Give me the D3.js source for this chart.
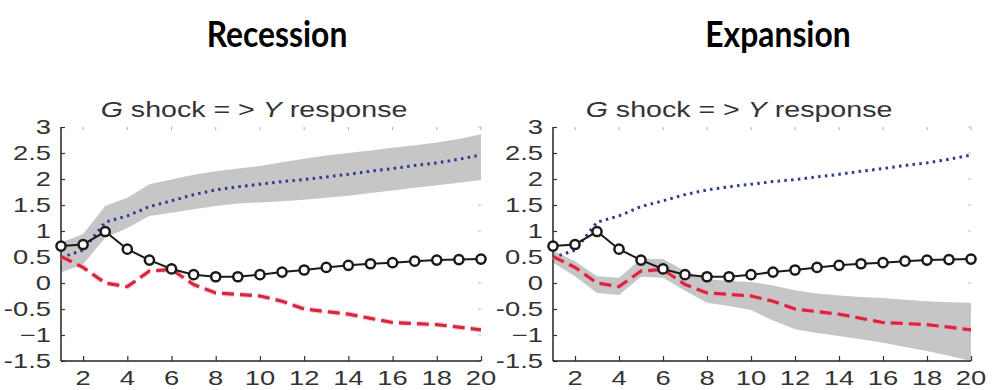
<!DOCTYPE html>
<html>
<head>
<meta charset="utf-8">
<script src="https://cdn.jsdelivr.net/npm/d3@7/dist/d3.min.js"></script>
<style>
  html, body { margin: 0; padding: 0; background: #fff; }
  svg { display: block; }
</style>
</head>
<body>
<svg id="chart" width="994" height="390"></svg>
<script>
// Impulse responses of output Y to a government spending shock G, horizons 1..20
const periods = [1,2,3,4,5,6,7,8,9,10,11,12,13,14,15,16,17,18,19,20];

// Black solid line with open circles
const linearResponse = [0.71,0.74,0.99,0.65,0.44,0.27,0.16,0.12,0.12,0.16,0.21,0.25,0.30,0.34,0.37,0.39,0.42,0.44,0.45,0.46];

// Blue dotted line and its band
const blueResponse = [0.49,0.63,1.17,1.29,1.47,1.58,1.70,1.79,1.85,1.90,1.95,1.99,2.04,2.09,2.15,2.20,2.26,2.31,2.38,2.46];
const blueBandLow  = [0.20,0.36,0.87,1.06,1.29,1.35,1.42,1.48,1.53,1.55,1.57,1.60,1.64,1.68,1.73,1.78,1.83,1.88,1.93,1.98];
const blueBandHigh = [0.78,0.94,1.48,1.64,1.90,1.99,2.08,2.15,2.20,2.25,2.32,2.39,2.45,2.50,2.55,2.60,2.65,2.70,2.77,2.86];

// Red dashed line and its band
const redResponse = [0.51,0.30,0.00,-0.07,0.23,0.26,-0.03,-0.19,-0.22,-0.25,-0.35,-0.50,-0.55,-0.60,-0.68,-0.76,-0.78,-0.80,-0.85,-0.90];
const redBandLow  = [0.39,0.13,-0.19,-0.23,0.12,0.10,-0.15,-0.38,-0.44,-0.52,-0.72,-0.89,-0.96,-1.02,-1.08,-1.15,-1.23,-1.31,-1.40,-1.50];
const redBandHigh = [0.62,0.42,0.13,0.10,0.46,0.46,0.23,0.07,0.04,0.02,-0.05,-0.14,-0.20,-0.24,-0.27,-0.29,-0.32,-0.35,-0.37,-0.38];

const yTicks = [-1.5,-1,-0.5,0,0.5,1,1.5,2,2.5,3];
const yTickLabels = ["-1.5","\u22121","-0.5","0","0.5","1","1.5","2","2.5","3"];
const xTicks = [2,4,6,8,10,12,14,16,18,20];

const panelTitles = ["Recession", "Expansion"];
const bandSeries = ["blue", "red"];

const svg = d3.select("#chart");
const stretch = 1.37;

const panels = [
  { left: 61, right: 481, titleX: 277, subX: 254 },
  { left: 553, right: 971, titleX: 778, subX: 739 }
];

panels.forEach((p, i) => {
  const x = d3.scaleLinear().domain([1, 20]).range([p.left, p.right]);
  const y = d3.scaleLinear().domain([-1.5, 3]).range([361, 127]);
  const g = svg.append("g");

  // Panel heading
  g.append("text")
    .attr("transform", `translate(${p.titleX},47) scale(0.86,1)`)
    .attr("text-anchor", "middle")
    .style("font-family", "Lato, 'Open Sans', sans-serif")
    .style("font-weight", 700)
    .style("font-size", "37px")
    .attr("fill", "#000")
    .text(panelTitles[i]);

  // Axes subtitle
  const sub = g.append("text")
    .attr("transform", `translate(${p.subX},117) scale(1.3,1)`)
    .attr("text-anchor", "middle")
    .style("font-family", "'Liberation Sans', Arial, sans-serif")
    .style("font-size", "22px")
    .attr("fill", "#333");
  sub.append("tspan").style("font-style", "italic").text("G");
  sub.append("tspan").text(" shock = > ");
  sub.append("tspan").style("font-style", "italic").text("Y");
  sub.append("tspan").text(" response");

  // Confidence band
  const area = d3.area()
    .x((d, k) => x(periods[k]))
    .y0(d => y(d[0]))
    .y1(d => y(d[1]));
  const lo = bandSeries[i] === "blue" ? blueBandLow : redBandLow;
  const hi = bandSeries[i] === "blue" ? blueBandHigh : redBandHigh;
  g.append("path")
    .datum(lo.map((v, k) => [v, hi[k]]))
    .attr("d", area)
    .attr("fill", "#c6c6c6");

  // Faint box ticks on top and right
  g.selectAll(".ttick").data(xTicks).enter().append("line")
    .attr("x1", d => x(d)).attr("x2", d => x(d))
    .attr("y1", y(3)).attr("y2", y(3) + 3)
    .attr("stroke", "#aaa").attr("stroke-width", 1);
  g.selectAll(".rtick").data(yTicks).enter().append("line")
    .attr("x1", x(20) - 3).attr("x2", x(20))
    .attr("y1", d => y(d)).attr("y2", d => y(d))
    .attr("stroke", "#bbb").attr("stroke-width", 1);

  // Left axis
  const yAxis = d3.axisRight(y).tickValues(yTicks).tickSize(4).tickFormat("");
  const ya = g.append("g").attr("transform", `translate(${p.left},0)`).call(yAxis);
  ya.select(".domain").attr("d", `M0,${y(3)}V${y(-1.5)}`).attr("stroke", "#222").attr("stroke-width", 1.5);
  ya.selectAll(".tick line").attr("stroke", "#333").attr("stroke-width", 1.2);
  g.selectAll(".ylab").data(yTicks).enter().append("text")
    .attr("transform", d => `translate(${p.left - 10},${y(d) + 7}) scale(${stretch},1)`)
    .attr("text-anchor", "end")
    .style("font-family", "'Liberation Sans', Arial, sans-serif")
    .style("font-size", "20px")
    .attr("fill", "#333")
    .text((d, k) => yTickLabels[k]);

  // Bottom axis
  const xAxis = d3.axisTop(x).tickValues(xTicks).tickSize(5).tickFormat("");
  const xa = g.append("g").attr("transform", `translate(0,${y(-1.5)})`).call(xAxis);
  xa.select(".domain").attr("d", `M${p.left},0H${p.right}`).attr("stroke", "#222").attr("stroke-width", 1.5);
  xa.selectAll(".tick line").attr("stroke", "#333").attr("stroke-width", 1.2);
  g.selectAll(".xlab").data(xTicks).enter().append("text")
    .attr("transform", d => `translate(${x(d)},385) scale(${stretch},1)`)
    .attr("text-anchor", "middle")
    .style("font-family", "'Liberation Sans', Arial, sans-serif")
    .style("font-size", "20px")
    .attr("fill", "#333")
    .text(d => d);

  const line = d3.line().x((d, k) => x(periods[k])).y(d => y(d));

  // Blue dotted
  g.append("path").datum(blueResponse).attr("d", line)
    .attr("fill", "none").attr("stroke", "#2d3a93")
    .attr("stroke-width", 3).attr("stroke-dasharray", "2.5,4.3");

  // Red dashed
  g.append("path").datum(redResponse).attr("d", line)
    .attr("fill", "none").attr("stroke", "#f2a5b2")
    .attr("stroke-width", 5.5).attr("stroke-opacity", 0.5)
    .attr("stroke-dasharray", "12,6");
  g.append("path").datum(redResponse).attr("d", line)
    .attr("fill", "none").attr("stroke", "#d8263f")
    .attr("stroke-width", 3.2).attr("stroke-dasharray", "12,6");

  // Black line with open circles
  g.append("path").datum(linearResponse).attr("d", line)
    .attr("fill", "none").attr("stroke", "#1a1a1a").attr("stroke-width", 2);
  g.selectAll(".mk").data(linearResponse).enter().append("circle")
    .attr("cx", (d, k) => x(periods[k]))
    .attr("cy", d => y(d))
    .attr("r", 4.6)
    .attr("fill", "#fff")
    .attr("stroke", "#1a1a1a")
    .attr("stroke-width", 2.5);
});
</script>
</body>
</html>
